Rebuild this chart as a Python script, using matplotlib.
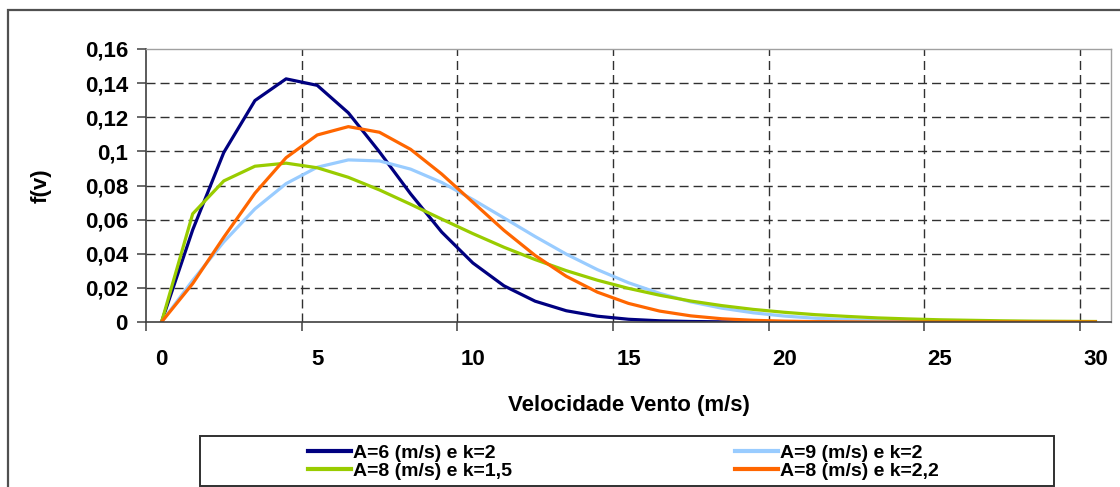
import matplotlib
matplotlib.use("Agg")
import matplotlib.pyplot as plt
from matplotlib.patches import Rectangle
import numpy as np

plt.rcParams['font.family'] = ['Liberation Sans', 'DejaVu Sans']

# ---- data ----
speeds = list(range(0, 31))
labels = ["A=6 (m/s) e k=2", "A=9 (m/s) e k=2", "A=8 (m/s) e k=1,5", "A=8 (m/s) e k=2,2"]
colors = ["#000080", "#99ccff", "#99cc00", "#ff6600"]

f_A6_k2 = [0.0, 0.0540, 0.0994, 0.1298, 0.1425, 0.1387, 0.1226, 0.0997, 0.0751, 0.0527,
           0.0346, 0.0212, 0.0122, 0.0066, 0.0034, 0.0016, 0.0007, 0.0003, 0.0001, 0.0,
           0.0, 0.0, 0.0, 0.0, 0.0, 0.0, 0.0, 0.0, 0.0, 0.0, 0.0]
f_A9_k2 = [0.0, 0.0244, 0.0470, 0.0663, 0.0811, 0.0907, 0.0950, 0.0944, 0.0896, 0.0818,
           0.0718, 0.0610, 0.0501, 0.0398, 0.0307, 0.0230, 0.0168, 0.0118, 0.0081, 0.0054,
           0.0035, 0.0022, 0.0014, 0.0008, 0.0005, 0.0003, 0.0001, 0.0001, 0.0, 0.0, 0.0]
f_A8_k15 = [0.0, 0.0634, 0.0827, 0.0913, 0.0931, 0.0904, 0.0848, 0.0774, 0.0690, 0.0603,
            0.0518, 0.0438, 0.0366, 0.0301, 0.0245, 0.0197, 0.0157, 0.0123, 0.0096, 0.0074,
            0.0057, 0.0043, 0.0033, 0.0024, 0.0018, 0.0013, 0.0010, 0.0007, 0.0005, 0.0004, 0.0003]
f_A8_k22 = [0.0, 0.0225, 0.0497, 0.0755, 0.0963, 0.1096, 0.1145, 0.1112, 0.1012, 0.0867,
            0.0702, 0.0537, 0.0390, 0.0268, 0.0175, 0.0109, 0.0064, 0.0036, 0.0019, 0.0010,
            0.0005, 0.0002, 0.0001, 0.0, 0.0, 0.0, 0.0, 0.0, 0.0, 0.0, 0.0]
series = [f_A6_k2, f_A9_k2, f_A8_k15, f_A8_k22]

ytick_vals = [0, 0.02, 0.04, 0.06, 0.08, 0.10, 0.12, 0.14, 0.16]
ytick_labels = ["0", "0,02", "0,04", "0,06", "0,08", "0,1", "0,12", "0,14", "0,16"]
xtick_vals = [0, 5, 10, 15, 20, 25, 30]
xtick_labels = ["0", "5", "10", "15", "20", "25", "30"]

# ---- figure ----
W, H = 1120, 487
fig = plt.figure(figsize=(W / 100, H / 100), dpi=100)
fig.patch.set_facecolor("white")

# chart-area border
fig.patches.append(Rectangle((8 / W, -0.1), 1.2, 1 - 10 / H + 0.1, transform=fig.transFigure,
                             fill=False, edgecolor="#505050", linewidth=1.6, clip_on=False))

ax = fig.add_axes([146 / W, 1 - 322 / H, (1111 - 146) / W, (322 - 49) / H])

lines = []
for vals, col, lab in zip(series, colors, labels):
    ln, = ax.plot(speeds, vals, color=col, linewidth=2.3, label=lab, solid_joinstyle="round")
    lines.append(ln)

ax.set_xlim(-0.5, 30.5)
ax.set_ylim(0, 0.16)

# y axis
ax.set_yticks(ytick_vals)
ax.set_yticklabels(ytick_labels, fontsize=16, fontweight="bold")
ax.tick_params(axis="y", direction="out", length=6.5, width=1.1, color="#404040", pad=6.5)

# x axis: ticks/gridlines at category boundaries, labels at categories
ax.set_xticks(np.arange(-0.5, 30.5, 5))
ax.set_xticklabels([])
ax.set_xticks(xtick_vals, minor=True)
ax.set_xticklabels(xtick_labels, minor=True, fontsize=16, fontweight="bold")
ax.tick_params(axis="x", which="major", direction="out", length=6.5, width=1.1, color="#404040")
ax.tick_params(axis="x", which="minor", length=0, pad=19.5)

ax.grid(True, which="major", color="#303030", linewidth=1.0, linestyle=(0, (6.5, 3.6)))
ax.set_axisbelow(True)
ax.yaxis.get_gridlines()[-1].set_visible(False)
ax.yaxis.get_gridlines()[0].set_visible(False)
ax.xaxis.get_gridlines()[0].set_visible(False)

for s in ["left", "bottom"]:
    ax.spines[s].set_color("#404040")
    ax.spines[s].set_linewidth(1.2)
for s in ["top", "right"]:
    ax.spines[s].set_color("#a0a0a0")
    ax.spines[s].set_linewidth(1.0)

ax.set_ylabel("f(v)", fontsize=16, fontweight="bold")
ax.yaxis.set_label_coords((52 - 146) / 965, 0.5)
ax.set_xlabel("Velocidade Vento (m/s)", fontsize=16, fontweight="bold")
ax.xaxis.set_label_coords(0.5, -(395 - 322) / 273)

# legend: two columns positioned separately, framed by one box
leg_kw = dict(frameon=False, borderpad=0, borderaxespad=0,
              prop={"size": 14, "weight": "bold"}, handlelength=2.2,
              handletextpad=0.1, labelspacing=0.0, loc="center left")
leg1 = fig.legend([lines[0], lines[2]], [labels[0], labels[2]],
                  bbox_to_anchor=(308 / W, 1 - 462 / H), **leg_kw)
leg2 = fig.legend([lines[1], lines[3]], [labels[1], labels[3]],
                  bbox_to_anchor=(735 / W, 1 - 462 / H), **leg_kw)
for lg in (leg1, leg2):
    for h in lg.legend_handles:
        h.set_linewidth(3.0)

fig.patches.append(Rectangle((200 / W, 1 - 486 / H), (1054 - 200) / W, 50 / H,
                             transform=fig.transFigure, fill=False, edgecolor="#303030",
                             linewidth=1.4))

fig.savefig("out.png", dpi=100, facecolor="white")
